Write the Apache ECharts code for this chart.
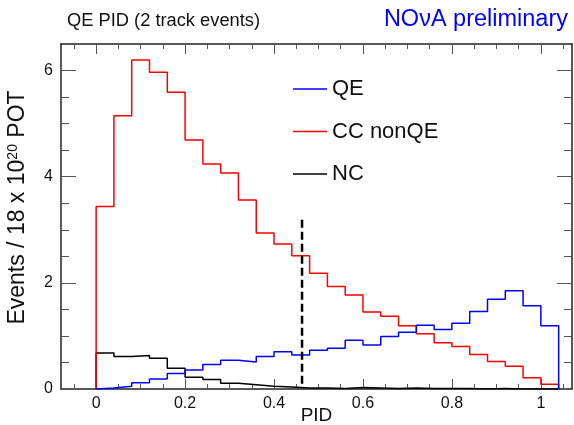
<!DOCTYPE html>
<html>
<head>
<meta charset="utf-8">
<script src="https://cdn.jsdelivr.net/npm/echarts@6/dist/echarts.min.js"></script>
<style>html,body{margin:0;padding:0;background:#fff}#c{width:574px;height:425px}</style>
</head>
<body>
<div id="c"></div>
<script>
// ---- data ----
const binLow = 0;
const binWidth = 0.04;
const qe = [0.02,0.05,0.12,0.19,0.29,0.36,0.46,0.54,0.51,0.61,0.70,0.64,0.73,0.77,0.92,0.83,0.99,1.07,1.20,1.12,1.24,1.46,1.69,1.85,1.57,1.19];
const ccNonQE = [3.44,5.15,6.20,5.97,5.59,4.69,4.24,4.07,3.56,2.94,2.73,2.51,2.18,1.93,1.77,1.45,1.37,1.19,1.04,0.87,0.80,0.65,0.52,0.43,0.21,0.09];
const nc = [0.68,0.61,0.63,0.58,0.39,0.22,0.18,0.11,0.08,0.05,0.04,0.02,0.02,0.01,0.03,0.02,0.01,0.02,0.01,0.01,0.01,0.00,0.01,0.00,0.00,0.00];
const cutValue = 0.463;
const cutRange = [0.10, 3.22];
const seriesNames = ['QE', 'CC nonQE', 'NC'];
const xTickLabels = [0, 0.2, 0.4, 0.6, 0.8, 1];
const xMinorTicks = [-0.05, 0.05, 0.1, 0.15, 0.25, 0.3, 0.35, 0.45, 0.5, 0.55, 0.65, 0.7, 0.75, 0.85, 0.9, 0.95, 1.05];
const yTickLabels = [0, 2, 4, 6];
const yMinorTicks = [0.5, 1, 1.5, 2.5, 3, 3.5, 4.5, 5, 5.5];
const xRange = [-0.079, 1.07];
const yRange = [0, 6.5];

function histPoints(vals) {
  const pts = [[binLow, 0]];
  vals.forEach((v, i) => {
    const x0 = binLow + i * binWidth;
    pts.push([x0, v], [x0 + binWidth, v]);
  });
  pts.push([binLow + vals.length * binWidth, 0]);
  return pts;
}

const font = 'Liberation Sans, Arial, Helvetica, sans-serif';
const frameColor = '#222';
const tickColor = '#555';

function dummy(range) {
  return { type: 'value', gridIndex: 0, show: false, min: range[0], max: range[1],
    axisLine: { show: false }, axisTick: { show: false }, axisLabel: { show: false }, splitLine: { show: false } };
}
function ax(range, pos, tickLen, ticks, showLine, extra) {
  return Object.assign({
    type: 'value', gridIndex: 0, position: pos, min: range[0], max: range[1],
    axisLine: { show: showLine, onZero: false, lineStyle: { color: frameColor, width: 1.5 } },
    axisTick: { show: true, inside: true, length: tickLen, customValues: ticks, lineStyle: { color: tickColor, width: 1 } },
    axisLabel: { show: false }, splitLine: { show: false }
  }, extra || {});
}

const xAxes = [
  dummy(xRange), dummy(xRange),
  ax(xRange, 'bottom', 10, xTickLabels, true, {
    axisLabel: { show: true, customValues: xTickLabels, margin: 7, fontSize: 16, color: '#111', fontFamily: font },
    name: 'PID', nameLocation: 'middle', nameGap: 17, nameMoveOverlap: false,
    nameTextStyle: { fontSize: 19, color: '#111', fontFamily: font, verticalAlign: 'top' }
  }),
  ax(xRange, 'bottom', 5, xMinorTicks, false),
  ax(xRange, 'top', 10, xTickLabels, true),
  ax(xRange, 'top', 5, xMinorTicks, false)
];
const yAxes = [
  dummy(yRange), dummy(yRange),
  ax(yRange, 'left', 15, yTickLabels, true, {
    axisLabel: { show: true, customValues: yTickLabels, margin: 8, fontSize: 16, color: '#111', fontFamily: font },
    name: 'Events / 18 x 10{sup|20} POT', nameLocation: 'middle', nameGap: 32, nameRotate: 90, nameMoveOverlap: false,
    nameTextStyle: { fontSize: 23, color: '#111', fontFamily: font, padding: [0, 0, 0, 18],
      rich: { sup: { fontSize: 14, fontFamily: font, color: '#111', verticalAlign: 'top', lineHeight: 14 } } }
  }),
  ax(yRange, 'left', 8, yMinorTicks, false),
  ax(yRange, 'right', 15, yTickLabels, true),
  ax(yRange, 'right', 8, yMinorTicks, false)
];

const colors = ['#0000ff', '#ff0000', '#000000'];
const values = [qe, ccNonQE, nc];

const chart = echarts.init(document.getElementById('c'), null, { renderer: 'canvas' });
chart.setOption({
  animation: false,
  title: [
    { text: 'QE PID (2 track events)', left: 67, top: 12, padding: 0,
      textStyle: { fontSize: 18.3, fontWeight: 'normal', color: '#111', fontFamily: font } },
    { text: 'NOνA preliminary', right: 6, top: 8, padding: 0,
      textStyle: { fontSize: 23.5, fontWeight: 'normal', color: '#0000ff', fontFamily: font } }
  ],
  legend: {
    data: seriesNames, orient: 'vertical', left: 293, top: 77, padding: 0,
    icon: 'rect', itemWidth: 34, itemHeight: 1.5, itemGap: 18.5,
    textStyle: { fontSize: 22, color: '#111', fontFamily: font, lineHeight: 24 }
  },
  grid: { left: 61, right: 2, top: 44, bottom: 36, outerBoundsMode: 'none', containLabel: false },
  xAxis: xAxes,
  yAxis: yAxes,
  series: seriesNames.map((n, i) => ({
    name: n, type: 'line', symbol: 'none', xAxisIndex: 2, yAxisIndex: 2,
    data: histPoints(values[i]),
    lineStyle: { color: colors[i], width: 1.5 }, itemStyle: { color: colors[i] }, z: 3 - i
  })).concat([{
    name: 'cut', type: 'line', symbol: 'none', xAxisIndex: 2, yAxisIndex: 2,
    data: [[cutValue, cutRange[0]], [cutValue, cutRange[1]]],
    lineStyle: { color: '#000', width: 2.5, type: [8, 4] }, z: 5
  }])
});
</script>
</body>
</html>
